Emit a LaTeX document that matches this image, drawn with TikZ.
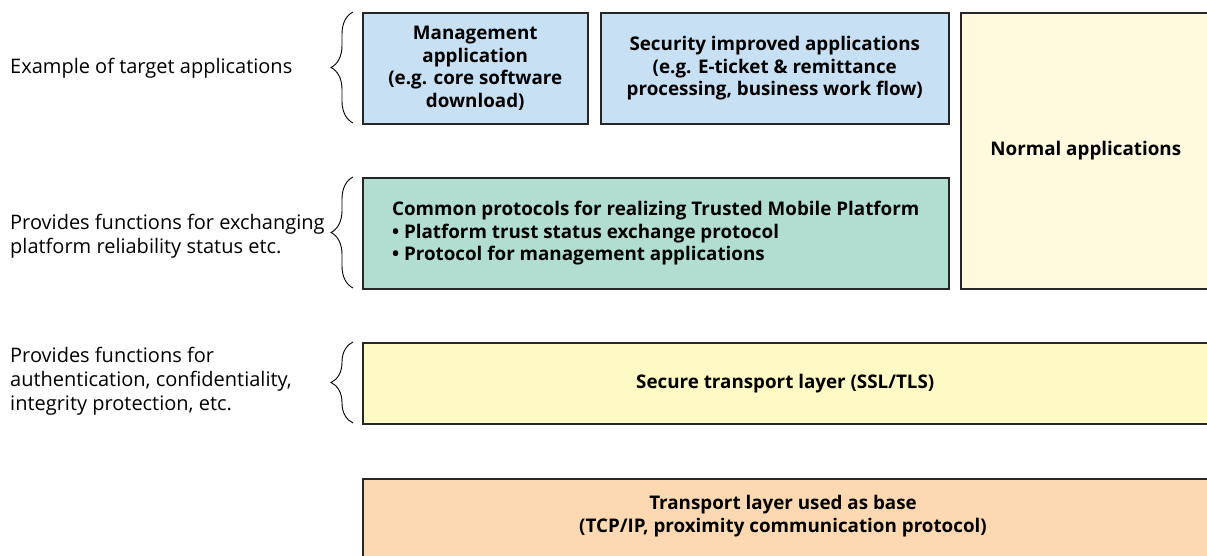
\documentclass[tikz,border=0pt]{standalone}
\usepackage{fontspec}
\setmainfont{Open Sans}
\usetikzlibrary{decorations.pathreplacing}
\definecolor{appblue}{RGB}{200,224,243}
\definecolor{protgreen}{RGB}{178,221,209}
\definecolor{normcream}{RGB}{255,250,222}
\definecolor{secyellow}{RGB}{255,249,198}
\definecolor{baseorange}{RGB}{252,217,178}
\tikzset{
  boxfont/.style={font=\fontsize{18.8}{22.8}\selectfont\bfseries},
  layerbox/.style={draw=black!85, line width=1.5pt, anchor=north west, inner sep=0pt,
    boxfont, align=center},
  sidelabel/.style={anchor=west, inner sep=0pt, align=left,
    font=\fontsize{20}{24}\selectfont},
  bracket/.style={draw=black, line width=0.9pt, decorate,
    decoration={brace, amplitude=22pt}}
}
\begin{document}
\begin{tikzpicture}[x=1pt,y=-1pt]
\useasboundingbox[fill=white] (0,0) rectangle (1207,555);
% boxes
\node[layerbox, fill=appblue, minimum width=225pt, minimum height=111pt] (mgmt) at (362,12)
  {Management\\application\\(e.g. core software\\download)};
\node[layerbox, fill=appblue, minimum width=348pt, minimum height=111pt] (sec) at (600,12)
  {Security improved applications\\(e.g. E-ticket \& remittance\\processing, business work flow)};
\node[layerbox, fill=normcream, minimum width=250pt, minimum height=276pt] (norm) at (960,12)
  {Normal applications};
\node[layerbox, fill=protgreen, minimum width=586pt, minimum height=111pt] (prot) at (362,177) {};
\node[align=left, inner sep=0pt, boxfont] (prottxt) at (prot.center)
  {Common protocols for realizing Trusted Mobile Platform\\
   \textbullet{} Platform trust status exchange protocol\\
   \textbullet{} Protocol for management applications};
\node[layerbox, fill=secyellow, minimum width=845pt, minimum height=81pt] (ssl) at (362,342)
  {Secure transport layer (SSL/TLS)};
\node[layerbox, fill=baseorange, minimum width=845pt, minimum height=90pt] (base) at (362,478)
  {};
\node[align=center, inner sep=0pt, boxfont] (basetxt) at (783,516)
  {Transport layer used as base\\(TCP/IP, proximity communication protocol)};
% braces
\coordinate (b1t) at (353,12);  \coordinate (b1b) at (353,123);
\coordinate (b2t) at (353,177); \coordinate (b2b) at (353,288);
\coordinate (b3t) at (353,342); \coordinate (b3b) at (353,423);
\draw[bracket] (b1b) -- (b1t);
\draw[bracket] (b2b) -- (b2t);
\draw[bracket] (b3b) -- (b3t);
% labels
\node[sidelabel] (l1) at (10,68) {Example of target applications};
\node[sidelabel] (l2) at (10,236) {Provides functions for exchanging\\platform reliability status etc.};
\node[sidelabel] (l3) at (10,381) {Provides functions for\\authentication, confidentiality,\\integrity protection, etc.};
\end{tikzpicture}
\end{document}
